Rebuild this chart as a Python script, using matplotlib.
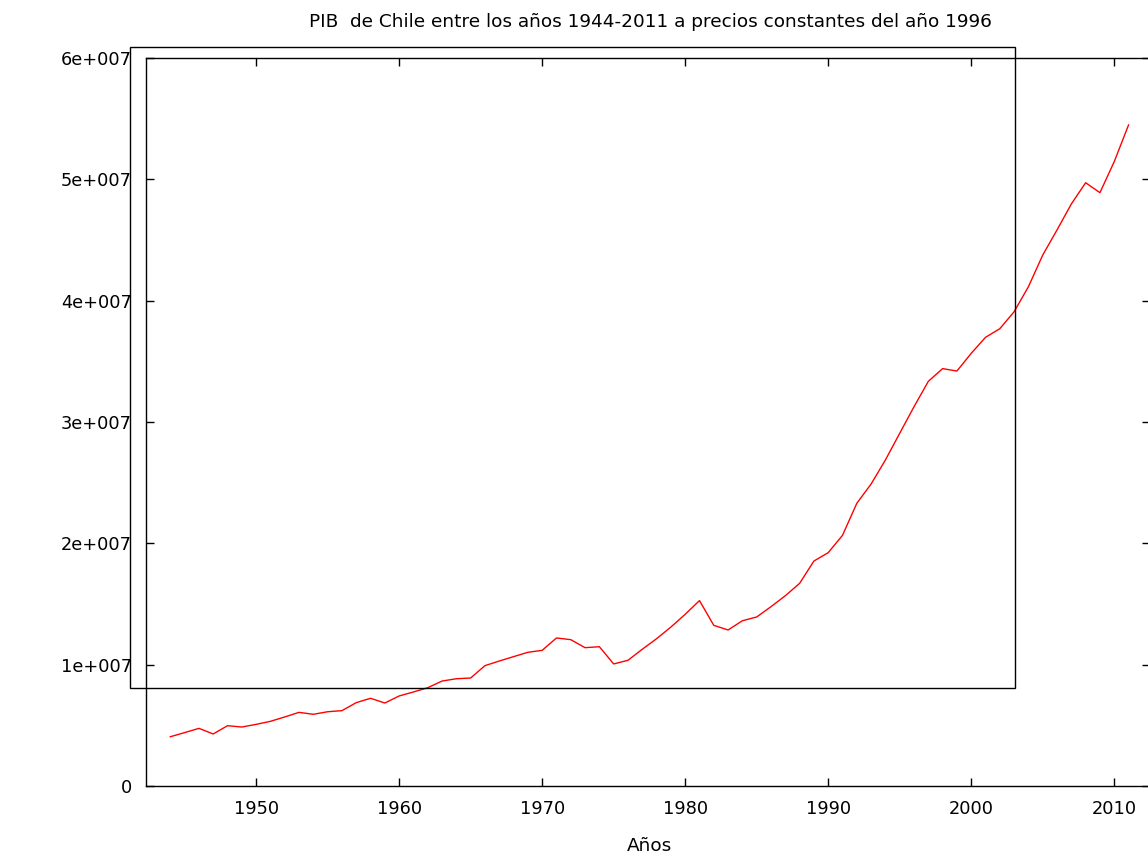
import matplotlib
matplotlib.use("Agg")
import matplotlib.pyplot as plt
import numpy as np
from matplotlib.patches import Rectangle
from matplotlib.ticker import FuncFormatter

years = np.arange(1944, 2012)
# PIB en millones de pesos de 1996
pib_millones = [
    4.06, 4.40, 4.75, 4.29, 4.97, 4.86, 5.08, 5.33, 5.69, 6.07,
    5.91, 6.12, 6.21, 6.87, 7.23, 6.84, 7.42, 7.75, 8.10, 8.65,
    8.84, 8.90, 9.92, 10.30, 10.66, 11.02, 11.18, 12.20, 12.06, 11.40,
    11.48, 10.06, 10.36, 11.27, 12.14, 13.10, 14.15, 15.28, 13.24, 12.86,
    13.62, 13.93, 14.78, 15.68, 16.70, 18.54, 19.23, 20.66, 23.30, 24.89,
    26.87, 29.07, 31.26, 33.35, 34.40, 34.20, 35.66, 36.98, 37.69, 39.09,
    41.15, 43.76, 45.83, 47.97, 49.72, 48.90, 51.46, 54.48,
]
pib = np.array(pib_millones) * 1e6

W, H = 1148, 856
fig = plt.figure(figsize=(W / 100, H / 100), dpi=100)
ax = fig.add_axes([146 / W, 1 - 786 / H, (1150 - 146) / W, (786 - 58) / H])

ax.plot(years, pib, color="red", linewidth=1.0)

ax.set_xlim(1942.3, 2012.5)
ax.set_ylim(0, 6e7)
ax.set_xticks(np.arange(1950, 2011, 10))
ax.set_yticks(np.arange(0, 6.1e7, 1e7))
ax.yaxis.set_major_formatter(
    FuncFormatter(lambda v, pos: "0" if v == 0 else f"{int(round(v / 1e7))}e+007")
)
ax.tick_params(direction="in", length=6, width=1, top=True, right=True,
               labelsize=12.8, colors="black")
ax.tick_params(axis="y", pad=10)
ax.tick_params(axis="x", pad=10)
for s in ax.spines.values():
    s.set_linewidth(1.0)

fig.text(650 / W, 1 - 22 / H,
         "PIB  de Chile entre los años 1944-2011 a precios constantes del año 1996",
         ha="center", va="center", fontsize=13.3)
fig.text(649 / W, 1 - 846 / H, "Años", ha="center", va="center", fontsize=13.3)

# marco sobrante del gráfico original
fig.patches.append(Rectangle((130 / W, 1 - 688 / H), (1015 - 130) / W, (688 - 47) / H,
                             transform=fig.transFigure, fill=False,
                             edgecolor="black", linewidth=1.0))

fig.savefig("out.png", dpi=100)
